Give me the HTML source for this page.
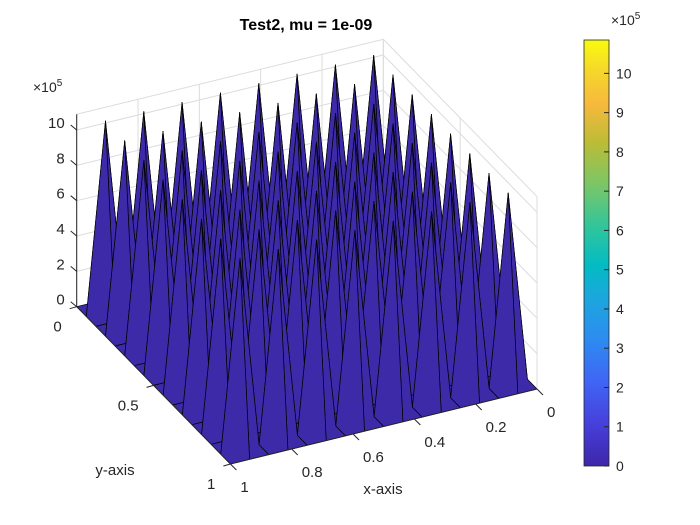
<!DOCTYPE html>
<html><head><meta charset="utf-8">
<style>
html,body{margin:0;padding:0;background:#fff;}
svg{display:block;font-family:"Liberation Sans",Arial,sans-serif;}
</style></head>
<body>
<svg id="chart" width="700" height="525" viewBox="0 0 700 525" xmlns="http://www.w3.org/2000/svg">
  <defs>
    <linearGradient id="parula" x1="0" y1="1" x2="0" y2="0">
      <stop offset="0" stop-color="#3e26a8"/>
      <stop offset="0.1" stop-color="#4640dc"/>
      <stop offset="0.2" stop-color="#3f66f5"/>
      <stop offset="0.3" stop-color="#2d8cf0"/>
      <stop offset="0.4" stop-color="#1aa8dc"/>
      <stop offset="0.47" stop-color="#03bbc3"/>
      <stop offset="0.56" stop-color="#30c59c"/>
      <stop offset="0.66" stop-color="#7ac667"/>
      <stop offset="0.76" stop-color="#bcbc36"/>
      <stop offset="0.85" stop-color="#f7b93d"/>
      <stop offset="0.93" stop-color="#f5d82a"/>
      <stop offset="1" stop-color="#f9fb0e"/>
    </linearGradient>
  </defs>
  <text x="306" y="30" font-size="16" font-weight="bold" text-anchor="middle" fill="#000">Test2, mu = 1e-09</text>
  <g id="grid"></g>
  <g id="surface"></g>
  <g id="axes"></g>
  <text x="33" y="92" font-size="14" fill="#262626">×10<tspan font-size="10" dy="-6">5</tspan></text>
  <text x="383" y="494" font-size="15" text-anchor="middle" fill="#262626">x-axis</text>
  <text x="115" y="475" font-size="15" text-anchor="middle" fill="#262626">y-axis</text>
  <g id="colorbar">
    <rect x="584" y="40" width="25" height="426" fill="url(#parula)" stroke="#262626" stroke-width="0.8"/>
    <text x="611" y="25" font-size="14" fill="#262626">×10<tspan font-size="10" dy="-6">5</tspan></text>
  </g>
</svg>
<script>
// Data
const gridN = 16; // cells per side
const peakValues = [
  [10.8,10.8,10.8,10.8,10.8,10.8,10.8,10.8],
  [10.8,10.8,10.8,10.8,10.8,10.8,10.8,10.8],
  [10.8,10.8,10.8,10.8,10.8,10.8,10.8,10.8],
  [10.8,10.8,10.8,10.8,10.8,10.8,10.8,10.8],
  [10.8,10.8,10.8,10.8,10.8,10.8,10.8,10.8],
  [10.8,10.8,10.8,10.8,10.8,10.8,10.8,10.8],
  [10.8,10.8,10.8,10.8,10.8,10.8,10.8,10.8],
  [10.8,10.8,10.8,10.8,10.8,10.8,10.8,10.8]
]; // units of 1e5, rows = y, cols = x
const zTicks = [0,2,4,6,8,10];
const xTicks = [0,0.2,0.4,0.6,0.8,1];
const xTickLabels = ["0","0.2","0.4","0.6","0.8","1"];
const yTicks = [0,0.5,1];
const yTickLabels = ["0","0.5","1"];
const cbTicks = [0,1,2,3,4,5,6,7,8,9,10];
const zMax = 10.89;

const NS = "http://www.w3.org/2000/svg";
const O = [383.3, 231.7], EX = [-306.6, 75], EY = [153.7, 157.3], EZ = 17.67;
function P(x, y, z) { return [O[0] + x*EX[0] + y*EY[0], O[1] + x*EX[1] + y*EY[1] - z*EZ]; }
function mk(tag, attrs, parent) {
  const e = document.createElementNS(NS, tag);
  for (const k in attrs) e.setAttribute(k, attrs[k]);
  parent.appendChild(e); return e;
}
function line(a, b, stroke, w, parent, name) {
  const e = mk('line', {x1:a[0], y1:a[1], x2:b[0], y2:b[1], stroke:stroke, 'stroke-width':w}, parent);
  
  
  return e;
}
const grid = document.getElementById('grid');
const gc = '#dcdcdc';
// back walls: y=0 wall and x=0 wall
zTicks.forEach(z => {
  line(P(1,0,z), P(0,0,z), gc, 1, grid, 'z-gridline');
  line(P(0,0,z), P(0,1,z), gc, 1, grid, 'z-gridline');
});
xTicks.forEach(x => { line(P(x,0,0), P(x,0,zMax), gc, 1, grid, 'x-gridline'); });
yTicks.forEach(y => { line(P(0,y,0), P(0,y,zMax), gc, 1, grid, 'y-gridline'); });
xTicks.forEach(x => { line(P(x,0,0), P(x,1,0), gc, 1, grid, 'x-floor-gridline'); });
yTicks.forEach(y => { line(P(0,y,0), P(1,y,0), gc, 1, grid, 'y-floor-gridline'); });
line(P(1,0,zMax), P(0,0,zMax), gc, 1, grid, 'box-top-edge');
line(P(0,0,zMax), P(0,1,zMax), gc, 1, grid, 'box-top-edge');

// surface
function zAt(i, j) {
  if (i % 2 === 1 && j % 2 === 1) return peakValues[(j-1)/2][(i-1)/2];
  return 0;
}
const surf = document.getElementById('surface');
const cells = [];
for (let j = 0; j < gridN; j++) for (let i = 0; i < gridN; i++) {
  const c = P((i+0.5)/gridN, (j+0.5)/gridN, 0);
  cells.push({i, j, d: c[1]});
}
cells.sort((a, b) => a.d - b.d);
cells.forEach(c => {
  const pts = [[c.i,c.j],[c.i+1,c.j],[c.i+1,c.j+1],[c.i,c.j+1]].map(([i,j]) => P(i/gridN, j/gridN, zAt(i,j)));
  const poly = mk('polygon', {points: pts.map(p => p[0].toFixed(1)+','+p[1].toFixed(1)).join(' '),
    fill:'#3c2aa9', stroke:'#000', 'stroke-width':0.7, 'stroke-linejoin':'round'}, surf);
  
  
});

// axes
const ax = document.getElementById('axes');
const ac = '#262626';
line(P(1,0,0), P(1,0,zMax), ac, 1, ax, 'z-axis-line');
line(P(1,0,0), P(1,1,0), ac, 1, ax, 'y-axis-line');
line(P(1,1,0), P(0,1,0), ac, 1, ax, 'x-axis-line');
zTicks.forEach((z, k) => {
  const p = P(1,0,z);
  line(p, [p[0]-6, p[1]-5], ac, 1, ax, 'z-tick');
  const t = mk('text', {x:p[0]-12, y:p[1]-2, 'font-size':15, 'text-anchor':'end', fill:ac}, ax);
  t.textContent = String(z);
  
  
});
xTicks.forEach((x, k) => {
  const p = P(x,1,0);
  line(p, [p[0]+6, p[1]+6], ac, 1, ax, 'x-tick');
  const t = mk('text', {x:p[0]+10, y:p[1]+28, 'font-size':15, 'text-anchor':'start', fill:ac}, ax);
  t.textContent = xTickLabels[k];
  
  
});
yTicks.forEach((y, k) => {
  const p = P(1,y,0);
  line(p, [p[0]-7, p[1]+2], ac, 1, ax, 'y-tick');
  const t = mk('text', {x:p[0]-15, y:p[1]+25, 'font-size':15, 'text-anchor':'end', fill:ac}, ax);
  t.textContent = yTickLabels[k];
  
  
});

// colorbar ticks
const cb = document.getElementById('colorbar');
const cbTop = 40, cbBot = 466, cbMax = 10.85;
function cbY(v) { return cbBot - v / cbMax * (cbBot - cbTop); }
cbTicks.forEach(v => {
  const y = cbY(v);
  line([604, y], [609, y], ac, 1, cb, 'colorbar-tick');
  const t = mk('text', {x:616, y:y+5, 'font-size':14, fill:ac}, cb);
  t.textContent = String(v);
  
  
});
</script>
</body></html>
